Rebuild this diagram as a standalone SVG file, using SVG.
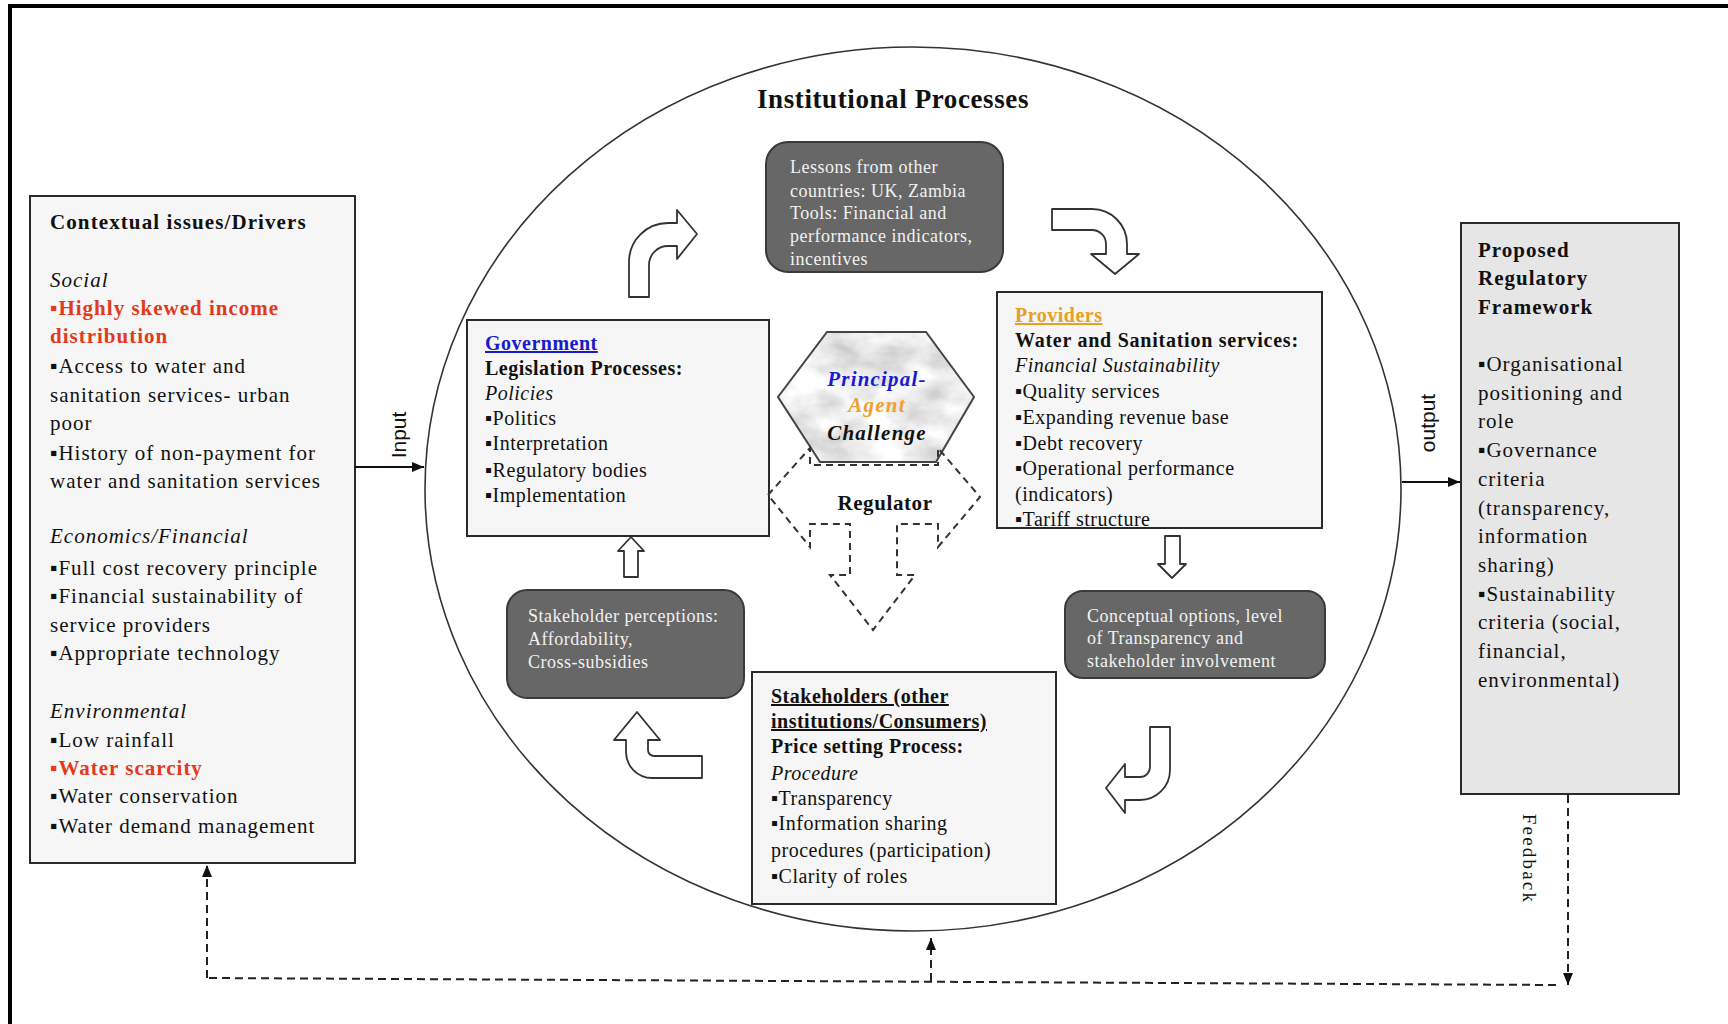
<svg xmlns="http://www.w3.org/2000/svg" width="1728" height="1024" viewBox="0 0 1728 1024">
  <defs>
    <style>
      text { font-family: "Liberation Serif", "Times New Roman", serif; fill: #111; }
      .s20 { font-size: 20px; letter-spacing: 0.5px; }
      .s21 { font-size: 21px; letter-spacing: 1px; }
      .hd { font-weight: bold; }
      .it { font-style: italic; }
      .red { fill: #e23a1c; font-weight: bold; }
      .ul { text-decoration: underline; }
      .lt { fill: #f2f2f2; font-size: 18px; letter-spacing: 0.5px; }
      .box { fill: #f6f6f6; stroke: #2a2a2a; stroke-width: 2; }
      .gbox { fill: #e6e6e6; stroke: #2a2a2a; stroke-width: 2; }
      .dkbox { fill: #676767; stroke: #3a3a3a; stroke-width: 2; }
      .blk { fill: #ffffff; stroke: #333; stroke-width: 1.8; stroke-linejoin: round; }
      .solid { fill: none; stroke: #111; stroke-width: 2; }
      .dash { fill: none; stroke: #222; stroke-width: 2; stroke-dasharray: 8 5; }
      .rdash { fill: none; stroke: #333; stroke-width: 2; stroke-dasharray: 7 5; }
      .sans { font-family: "Liberation Sans", Arial, sans-serif; font-size: 21px; }
    </style>
    <marker id="ah" viewBox="0 0 12 10" refX="12" refY="5" markerWidth="12" markerHeight="10" markerUnits="userSpaceOnUse" orient="auto">
      <path d="M0,0 L12,5 L0,10 Z" fill="#111"/>
    </marker>
    <clipPath id="hexclip">
      <polygon points="827,332 926,332 974,397 936,462 820,462 778,397"/>
    </clipPath>
    <filter id="marble" x="0" y="0" width="1" height="1">
      <feTurbulence type="fractalNoise" baseFrequency="0.022 0.035" numOctaves="4" seed="7"/>
      <feColorMatrix type="matrix" values="0.8 0 0 0 0.45  0.8 0 0 0 0.45  0.8 0 0 0 0.45  0 0 0 0 1"/>
    </filter>
  </defs>

  <rect x="0" y="0" width="1728" height="1024" fill="#ffffff"/>

  <!-- outer frame (top and left edges) -->
  <path d="M10,1024 L10,6 L1728,6" fill="none" stroke="#000" stroke-width="4"/>

  <!-- institutional processes circle -->
  <g id="institutional-processes">
    <ellipse cx="913" cy="489" rx="488" ry="442" fill="none" stroke="#333" stroke-width="1.6"/>
    <text x="893" y="108" text-anchor="middle" class="hd" font-size="27" letter-spacing="0.6">Institutional Processes</text>
  </g>

  <!-- contextual issues / drivers -->
  <g id="drivers">
    <rect class="box" x="30" y="196" width="325" height="667"/>
    <text x="50" y="229" class="hd" font-size="21" letter-spacing="1.1">Contextual issues/Drivers</text>
    <g class="s21">
      <text x="50" y="287" class="it">Social</text>
      <text x="50" y="315" class="red">▪Highly skewed income</text>
      <text x="50" y="343" class="red">distribution</text>
      <text x="50" y="373">▪Access to water and</text>
      <text x="50" y="402">sanitation services- urban</text>
      <text x="50" y="430">poor</text>
      <text x="50" y="460">▪History of non-payment for</text>
      <text x="50" y="488">water and sanitation services</text>
      <text x="50" y="543" class="it">Economics/Financial</text>
      <text x="50" y="575">▪Full cost recovery principle</text>
      <text x="50" y="603">▪Financial sustainability of</text>
      <text x="50" y="632">service providers</text>
      <text x="50" y="660">▪Appropriate technology</text>
      <text x="50" y="718" class="it">Environmental</text>
      <text x="50" y="747">▪Low rainfall</text>
      <text x="50" y="775" class="red">▪Water scarcity</text>
      <text x="50" y="803">▪Water conservation</text>
      <text x="50" y="833">▪Water demand management</text>
    </g>
  </g>

  <!-- lessons / tools -->
  <g id="lessons">
    <rect class="dkbox" x="766" y="142" width="237" height="130" rx="22"/>
    <text x="790" y="173" class="lt">Lessons from other</text>
    <text x="790" y="197" class="lt">countries: UK, Zambia</text>
    <text x="790" y="219" class="lt">Tools: Financial and</text>
    <text x="790" y="242" class="lt">performance indicators,</text>
    <text x="790" y="265" class="lt">incentives</text>
  </g>

  <!-- government -->
  <g id="government">
    <rect class="box" x="467" y="320" width="302" height="216"/>
    <g class="s20">
      <text x="485" y="350" class="hd ul" fill="#1a1acc" style="fill:#1a1acc">Government</text>
      <text x="485" y="375" class="hd">Legislation Processes:</text>
      <text x="485" y="400" class="it">Policies</text>
      <text x="485" y="425">▪Politics</text>
      <text x="485" y="450">▪Interpretation</text>
      <text x="485" y="477">▪Regulatory bodies</text>
      <text x="485" y="502">▪Implementation</text>
    </g>
  </g>

  <!-- principal-agent challenge -->
  <g id="principal-agent">
    <rect x="770" y="325" width="212" height="145" filter="url(#marble)" clip-path="url(#hexclip)"/>
    <polygon points="827,332 926,332 974,397 936,462 820,462 778,397" fill="none" stroke="#444" stroke-width="2"/>
    <g font-size="21" font-weight="bold" font-style="italic" letter-spacing="1.2" text-anchor="middle">
      <text x="877" y="386" style="fill:#1a1ad0">Principal-</text>
      <text x="877" y="412" style="fill:#f0a030">Agent</text>
      <text x="877" y="440">Challenge</text>
    </g>
  </g>

  <!-- regulator (three-way dashed arrow) -->
  <g id="regulator">
    <polygon class="rdash" points="768,495 810,448 810,465 938,465 938,448 980,497 938,547 938,524 897,524 897,575 915,575 873,630 830,575 850,575 850,524 810,524 810,547"/>
    <text x="885" y="510" text-anchor="middle" class="hd" font-size="21" letter-spacing="0.6">Regulator</text>
  </g>

  <!-- providers -->
  <g id="providers">
    <rect class="box" x="997" y="292" width="325" height="236"/>
    <g class="s20">
      <text x="1015" y="322" class="hd ul" style="fill:#e8a020">Providers</text>
      <text x="1015" y="347" class="hd" letter-spacing="0.75">Water and Sanitation services:</text>
      <text x="1015" y="372" class="it">Financial Sustainability</text>
      <text x="1015" y="398">▪Quality services</text>
      <text x="1015" y="424">▪Expanding revenue base</text>
      <text x="1015" y="450">▪Debt recovery</text>
      <text x="1015" y="475">▪Operational performance</text>
      <text x="1015" y="501">(indicators)</text>
      <text x="1015" y="526">▪Tariff structure</text>
    </g>
  </g>

  <!-- stakeholder perceptions -->
  <g id="perceptions">
    <rect class="dkbox" x="507" y="590" width="237" height="108" rx="20"/>
    <text x="528" y="622" class="lt">Stakeholder perceptions:</text>
    <text x="528" y="645" class="lt">Affordability,</text>
    <text x="528" y="668" class="lt">Cross-subsidies</text>
  </g>

  <!-- conceptual options -->
  <g id="conceptual-options">
    <rect class="dkbox" x="1065" y="591" width="260" height="87" rx="18"/>
    <text x="1087" y="622" class="lt">Conceptual options, level</text>
    <text x="1087" y="644" class="lt">of Transparency and</text>
    <text x="1087" y="667" class="lt">stakeholder involvement</text>
  </g>

  <!-- stakeholders -->
  <g id="stakeholders">
    <rect class="box" x="752" y="672" width="304" height="232"/>
    <g class="s20">
      <text x="771" y="703" class="hd ul">Stakeholders (other</text>
      <text x="771" y="728" class="hd ul">institutions/Consumers)</text>
      <text x="771" y="753" class="hd">Price setting Process:</text>
      <text x="771" y="780" class="it">Procedure</text>
      <text x="771" y="805">▪Transparency</text>
      <text x="771" y="830">▪Information sharing</text>
      <text x="771" y="857">procedures (participation)</text>
      <text x="771" y="883">▪Clarity of roles</text>
    </g>
  </g>

  <!-- proposed regulatory framework -->
  <g id="framework">
    <rect class="gbox" x="1461" y="223" width="218" height="571"/>
    <text x="1478" y="257" class="hd" font-size="21" letter-spacing="1">Proposed</text>
    <text x="1478" y="285" class="hd" font-size="21" letter-spacing="1">Regulatory</text>
    <text x="1478" y="314" class="hd" font-size="21" letter-spacing="1">Framework</text>
    <g class="s21">
      <text x="1478" y="371">▪Organisational</text>
      <text x="1478" y="400">positioning and</text>
      <text x="1478" y="428">role</text>
      <text x="1478" y="457">▪Governance</text>
      <text x="1478" y="486">criteria</text>
      <text x="1478" y="515">(transparency,</text>
      <text x="1478" y="543">information</text>
      <text x="1478" y="572">sharing)</text>
      <text x="1478" y="601">▪Sustainability</text>
      <text x="1478" y="629">criteria (social,</text>
      <text x="1478" y="658">financial,</text>
      <text x="1478" y="687">environmental)</text>
    </g>
  </g>

  <!-- connectors -->
  <g id="connectors">
    <!-- input / output -->
    <line class="solid" x1="355" y1="467" x2="424" y2="467" marker-end="url(#ah)"/>
    <text class="sans" transform="translate(406,435) rotate(-90)" text-anchor="middle">Input</text>
    <line class="solid" x1="1402" y1="482" x2="1460" y2="482" marker-end="url(#ah)"/>
    <text class="sans" transform="translate(1435,423) rotate(-90)" text-anchor="middle">output</text>

    <!-- feedback loop -->
    <path class="dash" d="M1568,795 L1568,985" marker-end="url(#ah)"/>
    <text transform="translate(1523,859) rotate(90)" text-anchor="middle" font-size="19" letter-spacing="2.2">Feedback</text>
    <path class="dash" d="M1556,985 L207,978"/>
    <path class="dash" d="M207,978 L207,865" marker-end="url(#ah)"/>
    <path class="dash" d="M931,981 L931,938" marker-end="url(#ah)"/>

    <!-- block flow arrows around the cycle -->
    <path class="blk" d="M629,297 L629,262 A39,39 0 0 1 668,223 L677,223 L677,210 L697,234 L677,259 L677,246 L668,246 A19,19 0 0 0 649,265 L649,297 Z"/>
    <path class="blk" d="M1052,209 L1092,209 A35,35 0 0 1 1127,244 L1127,254 L1139,254 L1115,274 L1091,254 L1106,254 L1106,244 A14,14 0 0 0 1092,230 L1052,230 Z"/>
    <path class="blk" d="M1165,536 L1180,536 L1180,564 L1186,564 L1172,578 L1158,564 L1165,564 Z"/>
    <path class="blk" d="M1150,727 L1170,727 L1170,770 A30,30 0 0 1 1140,800 L1125,800 L1125,813 L1106,788 L1125,764 L1125,777 L1140,777 A10,10 0 0 0 1150,767 Z"/>
    <path class="blk" d="M702,756 L654,756 A6,6 0 0 1 648,750 L648,740 L660,740 L637,712 L614,740 L626,740 L626,752 A26,26 0 0 0 652,778 L702,778 Z"/>
    <path class="blk" d="M624,577 L624,551 L618,551 L631,537 L644,551 L638,551 L638,577 Z"/>
  </g>
</svg>
